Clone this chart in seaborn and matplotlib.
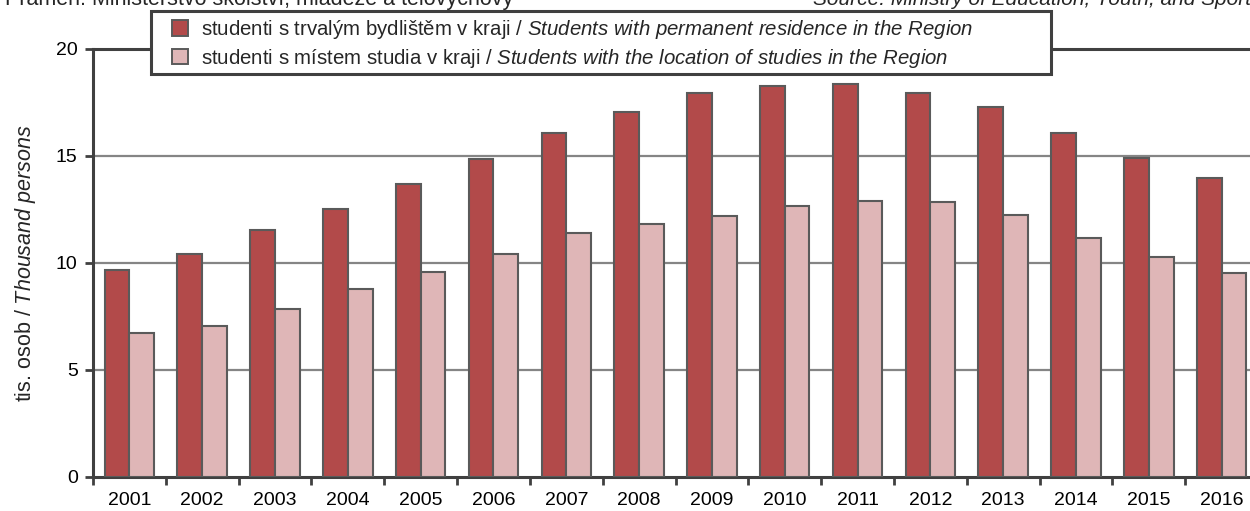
import matplotlib
matplotlib.use("Agg")
import matplotlib.pyplot as plt
from matplotlib.patches import Rectangle
import seaborn as sns
import pandas as pd

years = [str(y) for y in range(2001, 2017)]
residence = [9.65, 10.4, 11.55, 12.5, 13.7, 14.85, 16.07, 17.03, 17.94, 18.24,
             18.35, 17.93, 17.28, 16.05, 14.9, 13.97]
study = [6.7, 7.05, 7.85, 8.75, 9.55, 10.4, 11.39, 11.79, 12.17, 12.64,
         12.9, 12.85, 12.25, 11.15, 10.25, 9.5]

series_cz = ["studenti s trvalým bydlištěm v kraji", "studenti s místem studia v kraji"]
series_en = ["Students with permanent residence in the Region",
             "Students with the location of studies in the Region"]
ylabel_cz = "tis. osob"
ylabel_en = "Thousand persons"
source_cz = "Pramen: Ministerstvo školství, mládeže a tělovýchovy"
source_en = "Source: Ministry of Education, Youth, and Sports"

DARK = "#B24A4A"
LIGHT = "#DFB6B7"
EDGE = "#5A5A5A"
AXIS = "#404040"
GRID = "#858585"

sns.set_theme(style="white")
plt.rcParams["font.family"] = ["Liberation Sans", "DejaVu Sans"]
plt.rcParams["mathtext.fontset"] = "custom"
plt.rcParams["mathtext.rm"] = "Liberation Sans"
plt.rcParams["mathtext.it"] = "Liberation Sans:italic"


def ital(s):
    return r"$\mathit{" + s.replace(" ", r"\ ") + "}$"


def bilingual(cz, en):
    return cz + " / " + ital(en)


df = pd.DataFrame({
    "year": years * 2,
    "value": residence + study,
    "series": [series_cz[0]] * len(years) + [series_cz[1]] * len(years),
})

W, H = 1250, 511
fig = plt.figure(figsize=(W / 100, H / 100), dpi=100)
ax = fig.add_axes([93 / W, (H - 476.7) / H, 1165 / W, 428 / H])

sns.barplot(data=df, x="year", y="value", hue="series", order=years,
            hue_order=series_cz, palette=[DARK, LIGHT], saturation=1,
            width=0.68, gap=0, edgecolor=EDGE, linewidth=1.5, ax=ax,
            legend=True, zorder=3)

ax.set_xlim(-0.5, len(years) - 0.5)
ax.set_ylim(0, 20)
ax.set_yticks([0, 5, 10, 15, 20])
ax.set_yticklabels(["0", "5", "10", "15", "20"])
for y in [5, 10, 15]:
    ax.axhline(y, color=GRID, lw=1.6, zorder=1)

# category boundaries carry the ticks, centres carry the year labels
ax.set_xticks([i - 0.5 for i in range(len(years) + 1)])
ax.set_xticklabels([])
ax.set_xticks(range(len(years)), minor=True)
ax.set_xticklabels(years, minor=True)
ax.tick_params(axis="x", which="major", direction="out", length=6, width=2,
               color=AXIS, bottom=True)
ax.tick_params(axis="x", which="minor", length=0, pad=11, labelsize=14,
               labelcolor="black")
ax.tick_params(axis="y", direction="out", length=6, width=2, color=AXIS,
               left=True, labelsize=14, pad=5, labelcolor="black")

for side in ["left", "bottom", "top", "right"]:
    ax.spines[side].set_visible(True)
    ax.spines[side].set_color(AXIS)
    ax.spines[side].set_linewidth(2.2)

ax.set_xlabel("")
ax.set_ylabel(bilingual(ylabel_cz, ylabel_en), fontsize=15.5, labelpad=13)

# legend box drawn as its own frame, legend entries placed inside it
box = Rectangle((151 / W, 1 - 74 / H), 900 / W, 63.3 / H,
                transform=fig.transFigure, facecolor="white", edgecolor=AXIS,
                linewidth=2.2, clip_on=False, zorder=9)
ax.add_patch(box)

handles, _ = ax.get_legend_handles_labels()
for h in handles:
    h.set_edgecolor(EDGE)
    h.set_linewidth(1.4)
leg = ax.legend(handles, [bilingual(c, e) for c, e in zip(series_cz, series_en)],
                loc="upper left", bbox_to_anchor=(172 / W, 1 - 18 / H),
                bbox_transform=fig.transFigure, fontsize=14.7, frameon=False,
                borderpad=0, borderaxespad=0, labelspacing=0.28,
                handlelength=0.8, handleheight=0.8, handletextpad=0.62)
leg.set_zorder(10)

fig.text(5 / W, 1 - 5 / H, source_cz, fontsize=15.5, ha="left", va="baseline")
fig.text(813 / W, 1 - 5 / H, source_en, fontsize=15, style="italic",
         ha="left", va="baseline")

fig.savefig("out.png", dpi=100)
